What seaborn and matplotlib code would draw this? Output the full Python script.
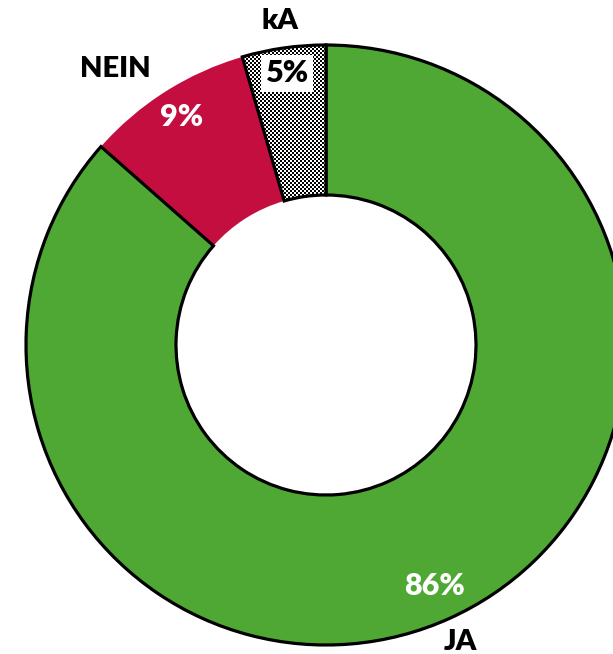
import numpy as np
import matplotlib
matplotlib.use("Agg")
import matplotlib.pyplot as plt
import seaborn as sns

sns.set_theme(style="white")
plt.rcParams["font.family"] = ["Lato", "DejaVu Sans"]

labels = ["JA", "NEIN", "kA"]
values = [86.5, 9.0, 4.5]
pct_text = ["86%", "9%", "5%"]
colors = ["#4FA833", "#C30E3F", "white"]

W, H = 613, 654
cx, cy, R = 326, 345, 300  # centre and outer radius in pixels
fig = plt.figure(figsize=(W / 100, H / 100), dpi=100)
ax = fig.add_axes([0, 0, 1, 1])
xlim = (-cx / R, (W - cx) / R)
ylim = ((cy - H) / R, cy / R)

wedges, _ = ax.pie(values, colors=colors, startangle=90, counterclock=False,
                   radius=1, wedgeprops=dict(width=0.5, linewidth=2.3,
                                             edgecolor="black"))
wedges[0].set_zorder(3)
wedges[1].set_linewidth(0)
wedges[1].set_zorder(2)

# checkered fill for "kA"
ka = wedges[2]
ka.set_facecolor("none")
ka.set_zorder(4)
cell = 2
nx, ny = W // cell + 1, H // cell + 1
checker = (np.add.outer(np.arange(ny), np.arange(nx)) % 2).astype(float)
img = ax.imshow(checker, cmap="gray", interpolation="nearest", zorder=3.5,
                extent=(xlim[0], xlim[0] + nx * cell / R,
                        ylim[1] - ny * cell / R, ylim[1]))
img.set_clip_path(ka)

pct_r = [0.88, 0.90, 0.915]
name_r = [1.085, 1.09, 1.09]
name_ha = ["center", "right", "center"]
for w, lab, pct, pr, nr, ha in zip(wedges, labels, pct_text, pct_r, name_r,
                                   name_ha):
    ang = np.deg2rad((w.theta1 + w.theta2) / 2)
    kw = dict(va="center", fontweight="heavy", zorder=6)
    if lab == "kA":
        ax.text(pr * np.cos(ang), pr * np.sin(ang), pct, fontsize=22,
                ha="center", color="black",
                bbox=dict(boxstyle="square,pad=0.14", fc="white", ec="none"),
                **kw)
    else:
        ax.text(pr * np.cos(ang), pr * np.sin(ang), pct, fontsize=22,
                ha="center", color="white", **kw)
    ax.text(nr * np.cos(ang), nr * np.sin(ang), lab, fontsize=21,
            ha=ha, color="black", **kw)

ax.set_xlim(*xlim)
ax.set_ylim(*ylim)
ax.set_aspect("equal")
ax.axis("off")
fig.savefig("out.png", dpi=100, facecolor="white")
